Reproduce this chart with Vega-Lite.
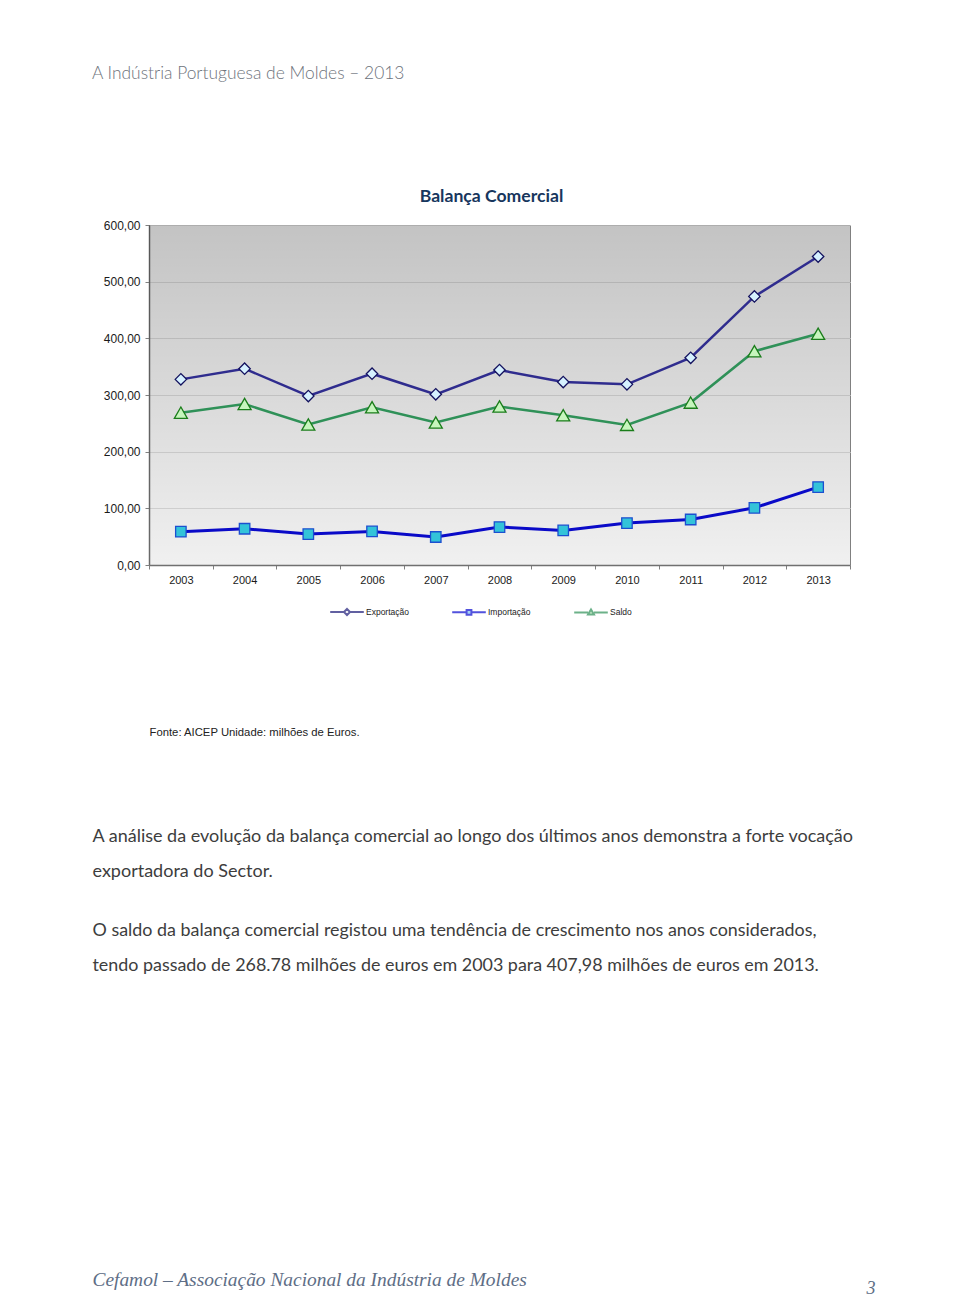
{
  "$schema": "https://vega.github.io/schema/vega-lite/v6.json",
  "width": 701,
  "height": 340,
  "autosize": {"type": "none"},
  "padding": {"left": 149, "top": 225, "right": 110, "bottom": 733},
  "background": "white",
  "title": {
    "text": "A Indústria Portuguesa de Moldes – 2013",
    "font": "Lato",
    "fontSize": 17.4,
    "fontWeight": 300,
    "color": "#6e737c",
    "anchor": "start",
    "frame": "group",
    "dx": -57,
    "baseline": "alphabetic",
    "offset": 91
  },
  "config": {
    "view": {"stroke": "#808080", "strokeWidth": 1}
  },
  "data": {
    "values": [
      {"ano": "2003", "serie": "Exportação", "valor": 327.6},
      {"ano": "2004", "serie": "Exportação", "valor": 346.4},
      {"ano": "2005", "serie": "Exportação", "valor": 298.2},
      {"ano": "2006", "serie": "Exportação", "valor": 337.6},
      {"ano": "2007", "serie": "Exportação", "valor": 301.2},
      {"ano": "2008", "serie": "Exportação", "valor": 344.0},
      {"ano": "2009", "serie": "Exportação", "valor": 322.9},
      {"ano": "2010", "serie": "Exportação", "valor": 318.8},
      {"ano": "2011", "serie": "Exportação", "valor": 365.7},
      {"ano": "2012", "serie": "Exportação", "valor": 474.0},
      {"ano": "2013", "serie": "Exportação", "valor": 544.3},
      {"ano": "2003", "serie": "Importação", "valor": 58.8},
      {"ano": "2004", "serie": "Importação", "valor": 64.0},
      {"ano": "2005", "serie": "Importação", "valor": 54.6},
      {"ano": "2006", "serie": "Importação", "valor": 59.2},
      {"ano": "2007", "serie": "Importação", "valor": 49.4},
      {"ano": "2008", "serie": "Importação", "valor": 67.0},
      {"ano": "2009", "serie": "Importação", "valor": 61.0},
      {"ano": "2010", "serie": "Importação", "valor": 74.0},
      {"ano": "2011", "serie": "Importação", "valor": 80.3},
      {"ano": "2012", "serie": "Importação", "valor": 100.9},
      {"ano": "2013", "serie": "Importação", "valor": 137.5},
      {"ano": "2003", "serie": "Saldo", "valor": 268.78},
      {"ano": "2004", "serie": "Saldo", "valor": 284.0},
      {"ano": "2005", "serie": "Saldo", "valor": 248.0},
      {"ano": "2006", "serie": "Saldo", "valor": 278.4},
      {"ano": "2007", "serie": "Saldo", "valor": 251.5},
      {"ano": "2008", "serie": "Saldo", "valor": 279.6},
      {"ano": "2009", "serie": "Saldo", "valor": 264.3},
      {"ano": "2010", "serie": "Saldo", "valor": 247.3},
      {"ano": "2011", "serie": "Saldo", "valor": 286.6},
      {"ano": "2012", "serie": "Saldo", "valor": 377.3},
      {"ano": "2013", "serie": "Saldo", "valor": 407.98}
    ]
  },
  "resolve": {"axis": {"x": "independent", "y": "independent"}},
  "layer": [
    {
      "data": {"values": [{"fundo": "plot"}]},
      "mark": {
        "type": "rect",
        "color": {
          "gradient": "linear",
          "x1": 0, "y1": 0, "x2": 0, "y2": 1,
          "stops": [
            {"offset": 0, "color": "rgba(0,0,0,0.235)"},
            {"offset": 1, "color": "rgba(0,0,0,0.06)"}
          ]
        }
      },
      "encoding": {}
    },
    {
      "transform": [{"filter": "datum.serie === 'Exportação'"}],
      "mark": {
        "type": "line",
        "color": "#2f2c8e",
        "strokeWidth": 2.5,
        "point": {"shape": "diamond", "filled": true, "fill": "#d6f1ff", "stroke": "#13115e", "strokeWidth": 1.3, "size": 130}
      },
      "encoding": {
        "x": {
          "field": "ano",
          "type": "ordinal",
          "bandPosition": 0.5,
          "scale": {"type": "band", "paddingInner": 0, "paddingOuter": 0},
          "axis": {
            "orient": "bottom",
            "labelAngle": 0,
            "labelFont": "Liberation Sans",
            "labelFontSize": 11,
            "labelColor": "#1a1a1a",
            "labelPadding": 5,
            "tickBand": "extent",
            "tickSize": 4,
            "tickColor": "#808080",
            "domainColor": "#707070",
            "domainWidth": 1.5,
            "grid": false,
            "title": "Fonte: AICEP Unidade: milhões de Euros.",
            "titleX": 0,
            "titleY": 170,
            "titleAlign": "left",
            "titleBaseline": "alphabetic",
            "titleFont": "Liberation Sans",
            "titleFontSize": 11.3,
            "titleFontWeight": "normal",
            "titleColor": "#222222"
          }
        },
        "y": {
          "field": "valor",
          "type": "quantitative",
          "scale": {"domain": [0, 600], "nice": false},
          "axis": {
            "orient": "left",
            "values": [0, 100, 200, 300, 400, 500, 600],
            "labelExpr": "replace(format(datum.value, '.2f'), '.', ',')",
            "labelFont": "Liberation Sans",
            "labelFontSize": 12,
            "labelColor": "#1a1a1a",
            "labelPadding": 5,
            "tickSize": 4,
            "tickColor": "#808080",
            "domainColor": "#707070",
            "domainWidth": 1.5,
            "grid": true,
            "gridColor": "#e2e2e2",
            "title": null
          }
        }
      }
    },
    {
      "transform": [{"filter": "datum.serie === 'Importação'"}],
      "mark": {
        "type": "line",
        "color": "#0a0ac8",
        "strokeWidth": 3,
        "point": {"shape": "square", "filled": true, "fill": "#33c3d9", "stroke": "#1c4fd0", "strokeWidth": 1.3, "size": 110}
      },
      "encoding": {
        "x": {
          "field": "ano",
          "type": "ordinal",
          "bandPosition": 0.5,
          "axis": {
            "orient": "top",
            "labels": false,
            "ticks": false,
            "domain": false,
            "grid": false,
            "title": "Balança Comercial",
            "titleX": 342,
            "titleY": -24,
            "titleAlign": "center",
            "titleBaseline": "alphabetic",
            "titleFont": "Lato",
            "titleFontSize": 17.6,
            "titleFontWeight": "bold",
            "titleColor": "#17365d"
          }
        },
        "y": {
          "field": "valor",
          "type": "quantitative",
          "axis": {
            "orient": "right",
            "labels": false,
            "ticks": false,
            "domain": false,
            "grid": false,
            "title": ["O saldo da balança comercial registou uma tendência de crescimento nos anos considerados,", "tendo passado de 268.78 milhões de euros em 2003 para 407,98 milhões de euros em 2013."],
            "titleAngle": 0,
            "titleX": -758,
            "titleY": 710,
            "titleAlign": "left",
            "titleBaseline": "alphabetic",
            "titleLineHeight": 35,
            "titleFont": "Lato",
            "titleFontSize": 17.9,
            "titleFontWeight": "normal",
            "titleColor": "#3d3d3d"
          }
        }
      }
    },
    {
      "transform": [{"filter": "datum.serie === 'Saldo'"}],
      "mark": {
        "type": "line",
        "color": "#2f9158",
        "strokeWidth": 2.5,
        "point": {"shape": "triangle-up", "filled": true, "fill": "#c6f5bd", "stroke": "#1a7d1a", "strokeWidth": 1.3, "size": 170}
      },
      "encoding": {
        "x": {
          "field": "ano",
          "type": "ordinal",
          "bandPosition": 0.5,
          "axis": {
            "orient": "bottom",
            "labels": false,
            "ticks": false,
            "domain": false,
            "grid": false,
            "title": "Cefamol – Associação Nacional da Indústria de Moldes",
            "titleX": -57,
            "titleY": 720,
            "titleAlign": "left",
            "titleBaseline": "alphabetic",
            "titleFont": "Liberation Serif",
            "titleFontSize": 19.4,
            "titleFontStyle": "italic",
            "titleFontWeight": "normal",
            "titleColor": "#5e6e86"
          }
        },
        "y": {
          "field": "valor",
          "type": "quantitative",
          "axis": {
            "orient": "left",
            "labels": false,
            "ticks": false,
            "domain": false,
            "grid": false,
            "title": "3",
            "titleAngle": 0,
            "titleX": 717,
            "titleY": 1068,
            "titleAlign": "left",
            "titleBaseline": "alphabetic",
            "titleFont": "Liberation Serif",
            "titleFontSize": 18,
            "titleFontStyle": "italic",
            "titleFontWeight": "normal",
            "titleColor": "#5e6e86"
          }
        }
      }
    },
    {
      "transform": [{"filter": "false"}],
      "mark": {"type": "point", "filled": true, "strokeWidth": 2},
      "encoding": {
        "x": {
          "field": "ano",
          "type": "ordinal",
          "bandPosition": 0.5,
          "axis": {
            "orient": "top",
            "labels": false,
            "ticks": false,
            "domain": false,
            "grid": false,
            "title": ["A análise da evolução da balança comercial ao longo dos últimos anos demonstra a forte vocação", "exportadora do Sector."],
            "titleX": -57,
            "titleY": 616,
            "titleAlign": "left",
            "titleBaseline": "alphabetic",
            "titleLineHeight": 35,
            "titleFont": "Lato",
            "titleFontSize": 18,
            "titleFontWeight": "normal",
            "titleColor": "#3d3d3d"
          }
        },
        "shape": {
          "field": "serie",
          "type": "nominal",
          "scale": {
            "domain": ["Exportação", "Importação", "Saldo"],
            "range": [
              "M-4.2,0H-0.75M0.75,0H4.2M0,-0.75L0.75,0L0,0.75L-0.75,0Z",
              "M-4.2,0H-0.6M0.6,0H4.2M-0.6,-0.6H0.6V0.6H-0.6Z",
              "M-4.2,0H-0.75M0.75,0H4.2M0,-0.75L0.75,0.55H-0.75Z"
            ]
          },
          "legend": {
            "orient": "none",
            "legendX": 193,
            "legendY": 382,
            "direction": "horizontal",
            "title": null,
            "symbolSize": 64,
            "symbolStrokeWidth": 2,
            "labelFont": "Liberation Sans",
            "labelFontSize": 8.5,
            "labelColor": "#222222",
            "labelOffset": 14,
            "columnPadding": 39
          }
        },
        "fill": {
          "field": "serie",
          "type": "nominal",
          "scale": {
            "domain": ["Exportação", "Importação", "Saldo"],
            "range": ["#ffffff", "#4aa8e8", "#9fe39a"]
          },
          "legend": {
            "orient": "none",
            "legendX": 193,
            "legendY": 382,
            "direction": "horizontal",
            "title": null,
            "symbolSize": 64,
            "symbolStrokeWidth": 2,
            "labelFont": "Liberation Sans",
            "labelFontSize": 8.5,
            "labelColor": "#222222",
            "labelOffset": 14,
            "columnPadding": 39
          }
        },
        "stroke": {
          "field": "serie",
          "type": "nominal",
          "scale": {
            "domain": ["Exportação", "Importação", "Saldo"],
            "range": ["#1f1d7a", "#0a0ad0", "#2f9158"]
          },
          "legend": {
            "orient": "none",
            "legendX": 193,
            "legendY": 382,
            "direction": "horizontal",
            "title": null,
            "symbolSize": 64,
            "symbolStrokeWidth": 2,
            "labelFont": "Liberation Sans",
            "labelFontSize": 8.5,
            "labelColor": "#222222",
            "labelOffset": 14,
            "columnPadding": 39
          }
        }
      }
    }
  ]
}
